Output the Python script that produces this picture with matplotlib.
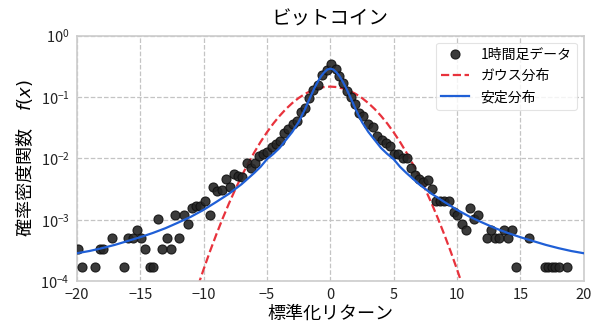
import matplotlib
matplotlib.use("Agg")
import matplotlib.pyplot as plt
import numpy as np

plt.rcParams['font.family'] = ['Noto Sans CJK JP', 'DejaVu Sans']
plt.rcParams['axes.unicode_minus'] = True

# Empirical density of standardized hourly returns (histogram bin centres)
data_x = [-19.92, -19.56, -18.6, -18.2, -17.9, -17.24, -16.27, -15.93, -15.6, -15.24,
          -14.93, -14.58, -14.26, -13.95, -13.6, -13.3, -12.92, -12.6, -12.27, -11.95,
          -11.58, -11.26, -10.92, -10.6, -10.25, -9.9, -9.53, -9.29, -8.92, -8.58,
          -8.24, -7.92, -7.63, -7.26, -6.95, -6.6, -6.26, -5.92, -5.6, -5.29,
          -4.97, -4.63, -4.29, -3.97, -3.66, -3.32, -2.97, -2.65, -2.31, -2.0,
          -1.68, -1.34, -0.95, -0.63, -0.28,
          0.05, 0.42, 0.69, 1.03, 1.29, 1.63, 1.95, 2.29, 2.61, 3.0,
          3.4, 3.71, 4.06, 4.4, 4.72, 5.03, 5.37, 5.72, 6.03, 6.37,
          6.69, 7.03, 7.35, 7.69, 8.0, 8.35, 8.67, 9.0, 9.37, 9.72,
          10.03, 10.38, 10.7, 11.03, 11.35, 11.69, 12.35, 12.67, 13.0, 13.33,
          13.67, 14.0, 14.33, 14.67, 15.64, 16.9, 17.18, 17.47, 17.76, 18.05, 18.67]
data_y = [3.4e-4, 1.7e-4, 1.7e-4, 3.4e-4, 3.4e-4, 5.1e-4, 1.7e-4, 5.1e-4, 5.1e-4, 6.8e-4,
          5.1e-4, 3.4e-4, 1.7e-4, 1.7e-4, 1.02e-3, 3.4e-4, 5.1e-4, 3.4e-4, 1.19e-3, 5.1e-4,
          1.19e-3, 8.5e-4, 1.53e-3, 1.7e-3, 1.7e-3, 2.04e-3, 1.19e-3, 3.4e-3, 2.9e-3, 3.06e-3,
          4.6e-3, 3.4e-3, 5.5e-3, 5.1e-3, 5.0e-3, 8.5e-3, 6.9e-3, 8.5e-3, 1.1e-2, 1.2e-2,
          1.26e-2, 1.55e-2, 1.7e-2, 1.94e-2, 2.6e-2, 2.96e-2, 3.6e-2, 4.1e-2, 5.8e-2, 6.6e-2,
          9.5e-2, 0.13, 0.158, 0.228, 0.28,
          0.34, 0.29, 0.22, 0.167, 0.127, 0.101, 0.077, 0.054, 0.049, 0.037,
          0.032, 0.023, 0.020, 0.0175, 0.0158, 0.012, 0.012, 0.0102, 0.0102, 0.0071,
          0.0053, 0.0047, 0.0041, 0.0045, 0.0032, 2.04e-3, 2.04e-3, 2.04e-3, 2.04e-3, 1.36e-3,
          1.19e-3, 8.5e-4, 6.8e-4, 1.53e-3, 1.02e-3, 1.19e-3, 5.1e-4, 6.8e-4, 5.1e-4, 5.1e-4,
          6.8e-4, 5.1e-4, 6.8e-4, 1.7e-4, 5.1e-4, 1.7e-4, 1.7e-4, 1.7e-4, 1.7e-4, 1.7e-4, 1.7e-4]

# Gaussian density curve
gauss_x = [-11.0, -10.5, -10.0, -9.5, -9.0, -8.5, -8.0, -7.5, -7.0, -6.5, -6.0, -5.5,
           -5.0, -4.5, -4.0, -3.5, -3.0, -2.5, -2.0, -1.5, -1.0, -0.5, 0.0,
           0.5, 1.0, 1.5, 2.0, 2.5, 3.0, 3.5, 4.0, 4.5, 5.0, 5.5, 6.0, 6.5,
           7.0, 7.5, 8.0, 8.5, 9.0, 9.5, 10.0, 10.5, 11.0]
gauss_y = [3.67e-5, 7.7e-5, 1.55e-4, 3.03e-4, 5.71e-4, 1.042e-3, 1.834e-3, 3.12e-3, 5.13e-3,
           8.15e-3, 1.252e-2, 1.856e-2, 2.66e-2, 3.69e-2, 4.93e-2, 6.38e-2, 7.97e-2, 9.63e-2,
           0.1124, 0.1267, 0.1380, 0.1453, 0.1478,
           0.1453, 0.1380, 0.1267, 0.1124, 9.63e-2, 7.97e-2, 6.38e-2, 4.93e-2, 3.69e-2,
           2.66e-2, 1.856e-2, 1.252e-2, 8.15e-3, 5.13e-3, 3.12e-3, 1.834e-3, 1.042e-3,
           5.71e-4, 3.03e-4, 1.55e-4, 7.7e-5, 3.67e-5]

# Stable density curve
stable_x = [-20, -19, -18, -17, -16, -15, -14, -13, -12, -11, -10, -9, -8, -7, -6, -5.5,
            -5, -4.5, -4, -3.5, -3, -2.5, -2, -1.75, -1.5, -1.25, -1, -0.75, -0.5, -0.25, 0,
            0.25, 0.5, 0.75, 1, 1.25, 1.5, 1.75, 2, 2.5, 3, 3.5, 4, 4.5, 5, 5.5,
            6, 7, 8, 9, 10, 11, 12, 13, 14, 15, 16, 17, 18, 19, 20]
stable_y = [2.85e-4, 3.1e-4, 3.45e-4, 3.9e-4, 4.5e-4, 5.2e-4, 6.1e-4, 7.3e-4, 9.0e-4, 1.12e-3,
            1.45e-3, 1.95e-3, 2.65e-3, 3.8e-3, 5.8e-3, 7.3e-3,
            9.7e-3, 1.18e-2, 1.48e-2, 2.0e-2, 2.7e-2, 3.9e-2, 6.3e-2, 8.3e-2, 0.108, 0.14,
            0.175, 0.215, 0.25, 0.28, 0.29,
            0.28, 0.25, 0.215, 0.175, 0.14, 0.108, 8.3e-2, 6.3e-2, 3.9e-2, 2.7e-2, 2.0e-2,
            1.48e-2, 1.18e-2, 9.7e-3, 7.3e-3,
            5.8e-3, 3.8e-3, 2.65e-3, 1.95e-3, 1.45e-3, 1.12e-3, 9.0e-4, 7.3e-4, 6.1e-4,
            5.2e-4, 4.5e-4, 3.9e-4, 3.45e-4, 3.1e-4, 2.85e-4]

x_ticks = [-20, -15, -10, -5, 0, 5, 10, 15, 20]
y_ticks = [1e-4, 1e-3, 1e-2, 1e-1, 1e0]

fig = plt.figure(figsize=(6.0, 3.3), dpi=100)
ax = fig.add_axes([0.128, 0.148, 0.845, 0.744])

ax.plot(data_x, data_y, 'o', color='#262626', markeredgecolor='#111111',
        markeredgewidth=0.8, markersize=6.5, alpha=0.9, label='1時間足データ', zorder=3)
ax.plot(gauss_x, gauss_y, '--', color='#e8323c', linewidth=1.6, label='ガウス分布', zorder=2)
ax.plot(stable_x, stable_y, '-', color='#1f5fd6', linewidth=1.6, label='安定分布', zorder=4)

ax.set_yscale('log')
ax.set_xlim(-20, 20)
ax.set_ylim(1e-4, 1e0)
ax.set_xticks(x_ticks)
ax.set_yticks(y_ticks)
ax.yaxis.set_minor_locator(matplotlib.ticker.NullLocator())
ax.tick_params(axis='both', length=0, labelsize=10.5, pad=5, colors='#222222')

ax.grid(True, linestyle='--', color='#c4c4c4', linewidth=0.9)
ax.set_axisbelow(True)
for sp in ax.spines.values():
    sp.set_color('#cccccc')
    sp.set_linewidth(1.2)

ax.set_title('ビットコイン', fontsize=14, pad=8)
ax.set_xlabel('標準化リターン', fontsize=13, labelpad=2)
ax.set_ylabel('確率密度関数　$f(x)$', fontsize=13, labelpad=4)

leg = ax.legend(loc='upper right', fontsize=10, frameon=True, borderpad=0.4,
                handlelength=2.0, handletextpad=0.8, labelspacing=0.5,
                borderaxespad=0.5)
leg.get_frame().set_edgecolor('#dddddd')
leg.get_frame().set_linewidth(0.8)

fig.savefig('out.png', dpi=100)
